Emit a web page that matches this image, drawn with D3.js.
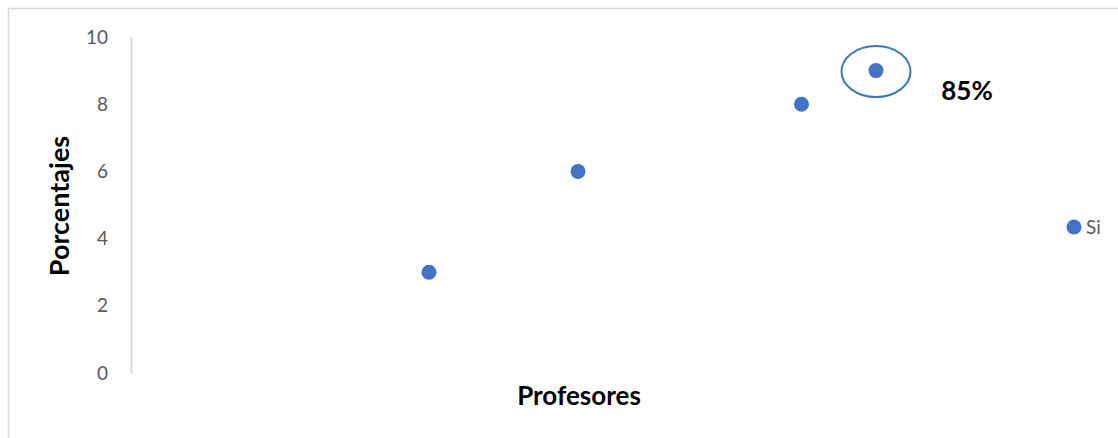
<!DOCTYPE html>
<html>
<head>
<meta charset="utf-8">
<script src="https://cdn.jsdelivr.net/npm/d3@7"></script>
<style>
  body { margin: 0; background: #fff; }
  text { font-family: Lato, "Open Sans", sans-serif; }
</style>
</head>
<body>
<script>
const width = 1118;
const height = 438;

// data
const profesores = [4, 6, 9, 10];
const porcentajes = [3, 6, 8, 9];
const yTicks = [0, 2, 4, 6, 8, 10];
const seriesName = 'Si';
const highlightIndex = 3;
const highlightLabel = '85%';

const margin = { left: 131, top: 37, bottom: 65 };
const color = '#4472c4';

const svg = d3.select('body')
  .append('svg')
  .attr('width', width)
  .attr('height', height);

// chart frame, only top and left edges are visible
svg.append('rect')
  .attr('x', 8.5)
  .attr('y', 8.5)
  .attr('width', width + 20)
  .attr('height', height + 20)
  .attr('fill', 'none')
  .attr('stroke', '#d9d9d9')
  .attr('stroke-width', 1.5);

const x = d3.scaleLinear()
  .domain([0, 12])
  .range([margin.left, margin.left + 12 * 74.5]);

const y = d3.scaleLinear()
  .domain([0, 10])
  .range([height - margin.bottom, margin.top]);

const yAxis = svg.append('g')
  .attr('transform', `translate(${margin.left},0)`)
  .call(d3.axisLeft(y).tickValues(yTicks).tickSize(0).tickPadding(23));

yAxis.select('.domain')
  .attr('stroke', '#d9d9d9')
  .attr('stroke-width', 2);

yAxis.selectAll('text')
  .attr('fill', '#595959')
  .style('font-size', '19px')
  .style('font-family', 'Lato, sans-serif');

svg.append('text')
  .attr('transform', `translate(69,${(y(0) + y(10)) / 2 + 1}) rotate(-90)`)
  .attr('text-anchor', 'middle')
  .style('font-size', '27px')
  .style('font-weight', 'bold')
  .attr('fill', '#000')
  .text('Porcentajes');

svg.append('text')
  .attr('x', 579)
  .attr('y', 405)
  .attr('text-anchor', 'middle')
  .style('font-size', '26px')
  .style('font-weight', 'bold')
  .attr('fill', '#000')
  .text('Profesores');

const points = profesores.map((p, i) => ({ x: p, y: porcentajes[i] }));

svg.selectAll('circle.dot')
  .data(points)
  .enter()
  .append('circle')
  .attr('class', 'dot')
  .attr('cx', d => x(d.x))
  .attr('cy', d => y(d.y))
  .attr('r', 7.5)
  .attr('fill', color);

// highlight ring and label
const hp = points[highlightIndex];
svg.append('ellipse')
  .attr('cx', x(hp.x))
  .attr('cy', y(hp.y) + 1)
  .attr('rx', 34.5)
  .attr('ry', 25.5)
  .attr('fill', 'none')
  .attr('stroke', '#3a78b8')
  .attr('stroke-width', 2);

svg.append('text')
  .attr('x', 967)
  .attr('y', 100)
  .attr('text-anchor', 'middle')
  .style('font-size', '26px')
  .style('font-weight', 'bold')
  .attr('fill', '#000')
  .text(highlightLabel);

// legend
const legend = svg.append('g').attr('transform', 'translate(1074,227)');
legend.append('circle').attr('r', 7.5).attr('fill', color);
legend.append('text')
  .attr('x', 12)
  .attr('y', 7)
  .style('font-size', '19px')
  .attr('fill', '#595959')
  .text(seriesName);
</script>
</body>
</html>
